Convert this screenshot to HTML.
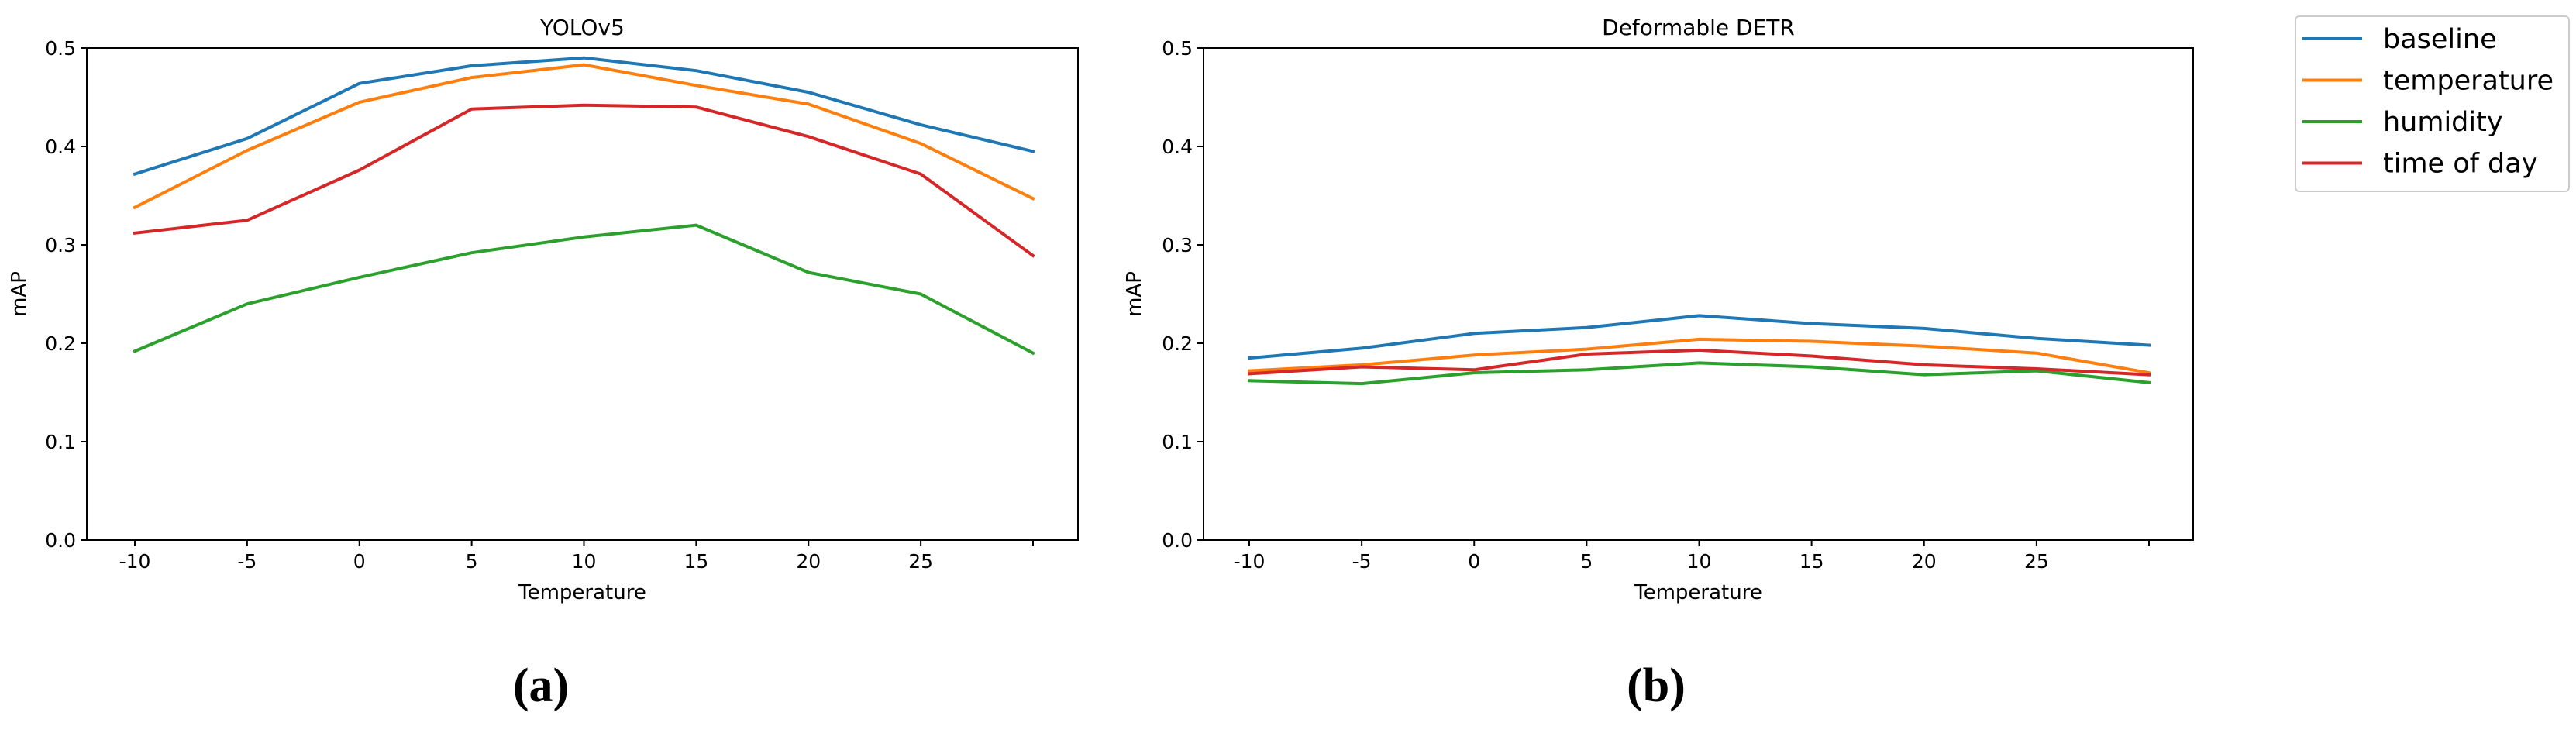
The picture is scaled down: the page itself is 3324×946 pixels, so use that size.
<!DOCTYPE html>
<html><head><meta charset="utf-8">
<style>
html,body{margin:0;padding:0;background:#fff;}
svg{display:block;font-family:"DejaVu Sans","Liberation Sans",sans-serif;}
</style></head>
<body>
<svg id="fig" width="3324" height="946" viewBox="0 0 3324 946" xmlns="http://www.w3.org/2000/svg"></svg>
<script>
const categories = [-10,-5,0,5,10,15,20,25,30];
const tickLabels = ["-10","-5","0","5","10","15","20","25",""];
const yTicks = [0,0.1,0.2,0.3,0.4,0.5];
const seriesNames = ["baseline","temperature","humidity","time of day"];
const colors = ["#1f77b4","#ff7f0e","#2ca02c","#d62728"];
// YOLOv5
const yoloBaseline = [0.372,0.408,0.464,0.482,0.490,0.477,0.455,0.422,0.395];
const yoloTemperature = [0.338,0.396,0.445,0.470,0.483,0.462,0.443,0.403,0.347];
const yoloHumidity = [0.192,0.240,0.267,0.292,0.308,0.320,0.272,0.250,0.190];
const yoloTimeOfDay = [0.312,0.325,0.376,0.438,0.442,0.440,0.410,0.372,0.289];
// Deformable DETR
const detrBaseline = [0.185,0.195,0.210,0.216,0.228,0.220,0.215,0.205,0.198];
const detrTemperature = [0.172,0.178,0.188,0.194,0.204,0.202,0.197,0.190,0.170];
const detrHumidity = [0.162,0.159,0.170,0.173,0.180,0.176,0.168,0.172,0.160];
const detrTimeOfDay = [0.169,0.176,0.173,0.189,0.193,0.187,0.178,0.174,0.168];

const NS="http://www.w3.org/2000/svg";
const svg=document.getElementById('fig');
function mk(tag,attrs,parent){const e=document.createElementNS(NS,tag);for(const k in attrs)e.setAttribute(k,attrs[k]);(parent||svg).appendChild(e);return e;}

function panel(cfg,series,idx){
  const g=mk('g',{});
  
  
  const {L,R,T,B,x0,x1}=cfg;
  const xs=v=>x0+(v-categories[0])/(categories[categories.length-1]-categories[0])*(x1-x0);
  const ys=v=>B-(v/0.5)*(B-T);
  series.forEach((vals,si)=>{
    const pts=vals.map((v,i)=>xs(categories[i]).toFixed(1)+','+ys(v).toFixed(1)).join(' ');
    const pl=mk('polyline',{points:pts,fill:'none',stroke:colors[si],'stroke-width':4,'stroke-linejoin':'round','stroke-linecap':'square'},g);
    
    
  });
  const frame=mk('rect',{x:L,y:T,width:R-L,height:B-T,fill:'none',stroke:'#000','stroke-width':2},g);
  
  
  yTicks.forEach(v=>{
    const y=ys(v);
    mk('line',{x1:L-8,x2:L,y1:y,y2:y,stroke:'#000','stroke-width':2},g);
    const t=mk('text',{x:L-14,y:y+9,'font-size':25,'text-anchor':'end',fill:'#000'},g);
    t.textContent=v.toFixed(1);
    
    
  });
  categories.forEach((c,i)=>{
    const x=xs(c);
    mk('line',{x1:x,x2:x,y1:B,y2:B+8,stroke:'#000','stroke-width':2},g);
    const t=mk('text',{x:x,y:B+36,'font-size':25,'text-anchor':'middle',fill:'#000'},g);
    t.textContent=tickLabels[i];
    
    
  });
  const title=mk('text',{x:(L+R)/2,y:T-17,'font-size':28,'text-anchor':'middle',fill:'#000'},g);
  title.textContent=cfg.title;
  
  
  const xl=mk('text',{x:(L+R)/2,y:B+76,'font-size':26,'text-anchor':'middle',fill:'#000'},g);
  xl.textContent='Temperature';
  
  
  const yl=mk('text',{x:0,y:0,'font-size':26,'text-anchor':'middle',fill:'#000',transform:`translate(${cfg.yl},${(T+B)/2}) rotate(-90)`},g);
  yl.textContent='mAP';
  
  
  const cap=mk('text',{x:cfg.capX,y:905,'font-size':62,'font-weight':'bold','text-anchor':'middle',fill:'#000','font-family':'"Liberation Serif",serif'},g);
  cap.textContent=cfg.cap;
  
  
}
panel({name:'yolov5-panel',title:'YOLOv5',L:112,R:1391,T:62,B:697,x0:174,x1:1333,yl:33,capX:698,cap:'(a)'},
  [yoloBaseline,yoloTemperature,yoloHumidity,yoloTimeOfDay]);
panel({name:'deformable-detr-panel',title:'Deformable DETR',L:1553,R:2830,T:62,B:697,x0:1612,x1:2773,yl:1472,capX:2137,cap:'(b)'},
  [detrBaseline,detrTemperature,detrHumidity,detrTimeOfDay]);

// legend
const lg=mk('g',{});


mk('rect',{x:2962,y:21,width:353,height:226,rx:5,fill:'#fff',stroke:'#ccc','stroke-width':2},lg);
seriesNames.forEach((n,i)=>{
  const y=50+i*53.5;
  const e=mk('g',{},lg);
  
  
  mk('line',{x1:2971,x2:3048,y1:y,y2:y,stroke:colors[i],'stroke-width':4},e);
  const t=mk('text',{x:3075,y:y+12,'font-size':35,fill:'#000'},e);
  t.textContent=n;
});
</script>
</body></html>
